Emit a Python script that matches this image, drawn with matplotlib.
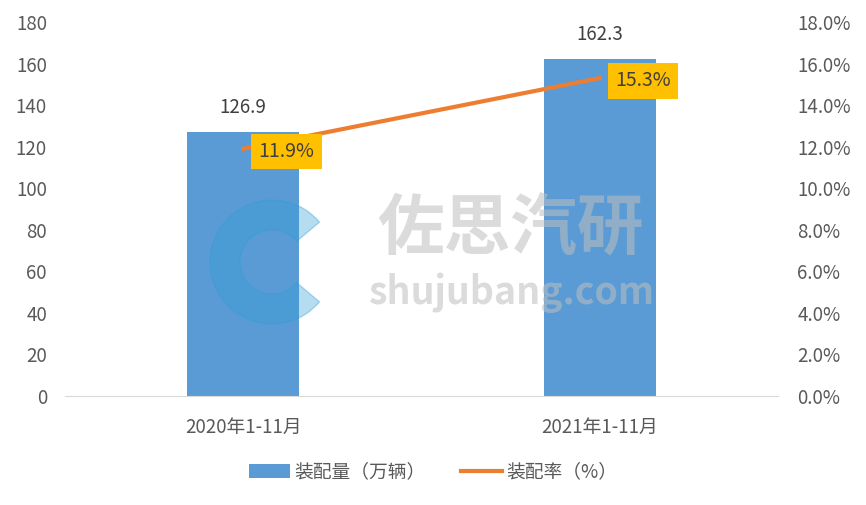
import matplotlib.pyplot as plt
import numpy as np
from matplotlib.patches import Wedge

plt.rcParams['font.family'] = ['Noto Sans CJK SC', 'DejaVu Sans']

# Data
periods = ['2020年1-11月', '2021年1-11月']
volume = [126.9, 162.3]      # 装配量 (万辆)
rate = [11.9, 15.3]          # 装配率 (%)

grey = '#595959'
bar_color = '#5B9BD5'
line_color = '#ED7D31'

fig = plt.figure(figsize=(8.66, 5.05), dpi=100)
ax = fig.add_axes([65 / 866, 1 - 396 / 505, 713 / 866, 374 / 505])
ax2 = ax.twinx()

x = np.arange(len(periods))
bars = ax.bar(x, volume, width=0.314, color=bar_color, label='装配量（万辆）', zorder=2)
line, = ax2.plot(x, rate, color=line_color, lw=3, label='装配率（%）', zorder=3)

ax.set_xlim(-0.5, 1.5)
ax.set_ylim(0, 180)
ax.set_yticks(np.arange(0, 181, 20))
ax2.set_ylim(0, 18)
ax2.set_yticks(np.arange(0, 18.1, 2))
ax2.set_yticklabels(['%.1f%%' % v for v in np.arange(0, 18.1, 2)])

ax.set_xticks(x)
ax.set_xticklabels(periods)

for a in (ax, ax2):
    for s in a.spines.values():
        s.set_visible(False)
    a.tick_params(length=0, colors=grey, labelsize=13.5)
ax.spines['bottom'].set_visible(True)
ax.spines['bottom'].set_color('#D9D9D9')
ax.tick_params(axis='x', pad=15)
ax.tick_params(axis='y', pad=13)
ax2.tick_params(axis='y', pad=14)

# bar value labels
for xi, v in zip(x, volume):
    ax.annotate('%.1f' % v, (xi, v), xytext=(0, 10), textcoords='offset points',
                ha='center', va='bottom', color='#404040', fontsize=13.5)

# line value labels in yellow boxes
for xi, r in zip(x, rate):
    ax2.annotate('%.1f%%' % r, (xi, r), xytext=(11, -2), textcoords='offset points',
                 ha='left', va='center', color='#404040', fontsize=14,
                 bbox=dict(boxstyle='square,pad=0.38', fc='#FFC000', ec='none'), zorder=5)

# faint watermark
fig.text(0.59, 0.545, '佐思汽研', fontsize=48, fontweight='bold', color='#BFBFBF',
         alpha=0.55, ha='center', va='center')
fig.text(0.59, 0.42, 'shujubang.com', fontsize=27, fontweight='bold', color='#BFBFBF',
         alpha=0.55, ha='center', va='center')
wax = fig.add_axes([0, 0, 1, 1], facecolor='none')
wax.set_xlim(0, 866)
wax.set_ylim(505, 0)
wax.axis('off')
wax.add_patch(Wedge((272, 262), 62, 40, 320, width=30, color='#2E9BD6', alpha=0.35))

fig.legend(handles=[bars, line], loc='center', bbox_to_anchor=(0.5, 1 - 472 / 505),
           ncol=2, frameon=False, fontsize=13.5, labelcolor=grey,
           handlelength=2.2, handletextpad=0.2, columnspacing=1.9)

fig.savefig('out.png', dpi=100)
